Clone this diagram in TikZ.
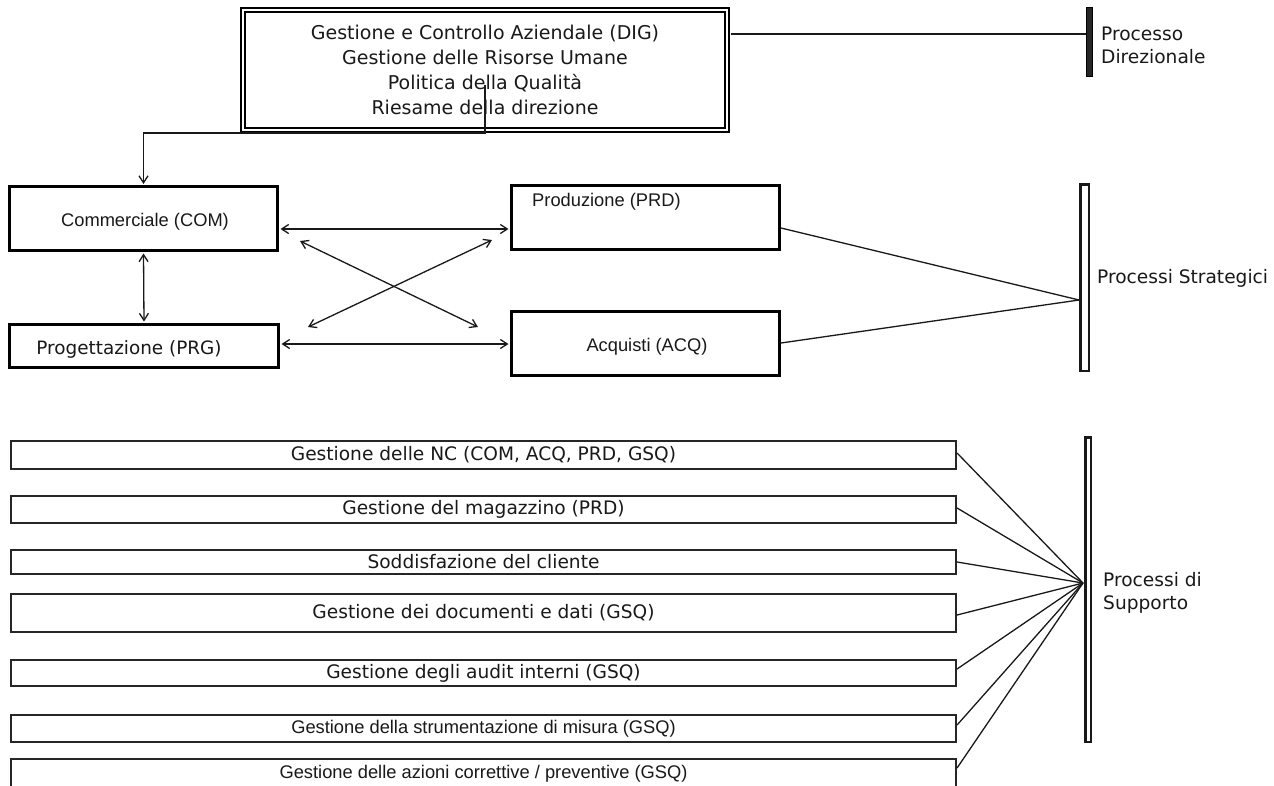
\documentclass[tikz,border=0pt]{standalone}
\usepackage{fontspec}
\newfontfamily\dv{DejaVu Sans}
\newfontfamily\ar{Liberation Sans}
\usetikzlibrary{arrows.meta}
\begin{document}
\begin{tikzpicture}[x=1pt,y=-1pt,
  box/.style={draw=black, line width=3pt, inner sep=0pt, minimum width=268pt},
  thinbox/.style={draw=black!85, line width=1.6pt, inner sep=0pt, minimum width=945.5pt, text=black!90, font=\dv\fontsize{18.6}{22}\selectfont},
  thinboxar/.style={thinbox, font=\ar\fontsize{18.3}{22}\selectfont},
  lbl/.style={inner sep=0pt, text=black!90},
  dvf/.style={font=\dv\fontsize{18.6}{23}\selectfont},
  arf/.style={font=\ar\fontsize{18.3}{22}\selectfont},
  conn/.style={draw=black!90, line width=1.3pt},
  tip/.tip={Straight Barb[length=7pt,width=9pt]},
  biarr/.style={conn, {tip}-{tip}, shorten <=1.5pt, shorten >=1.5pt},
  arr/.style={conn, -{tip}, shorten >=1pt},
  vbar/.style={draw=black!90, line width=2.5pt, fill=white, inner sep=0pt},
]
\clip (0,0) rectangle (1274,785);
\fill[white] (0,0) rectangle (1274,785);

% top box
\node[draw=black, line width=1.7pt, double, double distance=2.5pt,
      minimum width=484pt, minimum height=120pt, inner sep=0pt, align=center,
      font=\dv\fontsize{19}{25}\selectfont, text=black!90] (dir) at (485,70)
  {Gestione e Controllo Aziendale (DIG)\\Gestione delle Risorse Umane\\Politica della Qualità\\Riesame della direzione};

% Processo Direzionale bar
\node[fill=black!85, draw=black, line width=1pt, minimum width=6pt, minimum height=69pt, inner sep=0pt] (dbar) at (1089.5,42) {};
\node[lbl, dvf, anchor=west, align=left] (dlab) at (1101,45) {Processo\\Direzionale};
\coordinate (dpt) at (1086,34);
\draw[conn] ([xshift=3pt]dir.east |- dpt) -- (dpt);

% middle boxes
\node[box, minimum height=64pt] (com) at (143.5,218.5) {};
\node[lbl, arf] (comt) at (145,222) {Commerciale (COM)};
\node[box, minimum width=269pt, minimum height=43pt] (prg) at (144,346) {};
\node[lbl, font=\dv\fontsize{18.4}{22}\selectfont] (prgt) at (129,349) {Progettazione (PRG)};
\node[box, minimum height=64pt] (prd) at (645.5,217.5) {};
\node[lbl, arf, anchor=west] (prdt) at (532,202) {Produzione (PRD)};
\node[box, minimum height=64pt] (acq) at (645.5,343.5) {};
\node[lbl, arf] (acqt) at (647,347) {Acquisti (ACQ)};

% connector from top box to Commerciale
\coordinate (din) at (485,85);
\coordinate (dcorner) at (485,133);
\draw[arr] (din) -- (dcorner) -| (com.north);

% arrows between middle boxes
\draw[biarr] (com.east |- 0,229) -- (prd.west |- 0,229);
\draw[biarr] (prg.east |- 0,344) -- (acq.west |- 0,344);
\draw[biarr] (com.south) -- (prg.north);
\coordinate (xa1) at (300,241);
\coordinate (xa2) at (478,327);
\coordinate (xb1) at (308,327);
\coordinate (xb2) at (492,240);
\draw[conn, {tip}-{tip}] (xa1) -- (xa2);
\draw[conn, {tip}-{tip}] (xb1) -- (xb2);

% Processi Strategici bar
\node[vbar, minimum width=8.5pt, minimum height=186.5pt] (sbar) at (1084.5,277.5) {};
\node[lbl, dvf, anchor=west] (slab) at (1097,278) {Processi Strategici};
\coordinate (sp) at (1079,300);
\draw[conn] (prd.east |- 0,228) -- (sp);
\draw[conn] (acq.east |- 0,343) -- (sp);

% support boxes
\node[thinbox, minimum height=28.5pt] (b1) at (483.5,455) {Gestione delle NC (COM, ACQ, PRD, GSQ)};
\node[thinbox, minimum height=27.5pt] (b2) at (483.5,509.5) {Gestione del magazzino (PRD)};
\node[thinbox, minimum height=24.5pt] (b3) at (483.5,562) {Soddisfazione del cliente};
\node[thinbox, minimum height=38.5pt] (b4) at (483.5,613) {Gestione dei documenti e dati (GSQ)};
\node[thinbox, minimum height=26.5pt] (b5) at (483.5,673) {Gestione degli audit interni (GSQ)};
\node[thinboxar, minimum height=27.5pt] (b6) at (483.5,728.5) {Gestione della strumentazione di misura (GSQ)};
\node[thinboxar, minimum height=30pt] (b7) at (483.5,774) {Gestione delle azioni correttive / preventive (GSQ)};

% Processi di Supporto bar
\node[vbar, minimum width=5.5pt, minimum height=304.5pt] (ubar) at (1088,589.5) {};
\node[lbl, dvf, anchor=west, align=left] (ulab) at (1103,593) {Processi di\\Supporto};
\coordinate (up) at (1083,583);
\draw[conn] (b1.east |- 0,453) -- (up);
\draw[conn] (b2.east |- 0,508) -- (up);
\draw[conn] (b3.east |- 0,562) -- (up);
\draw[conn] (b4.east |- 0,615) -- (up);
\draw[conn] (b5.east |- 0,669) -- (up);
\draw[conn] (b6.east |- 0,725) -- (up);
\draw[conn] (b7.east |- 0,768) -- (up);
\end{tikzpicture}
\end{document}
